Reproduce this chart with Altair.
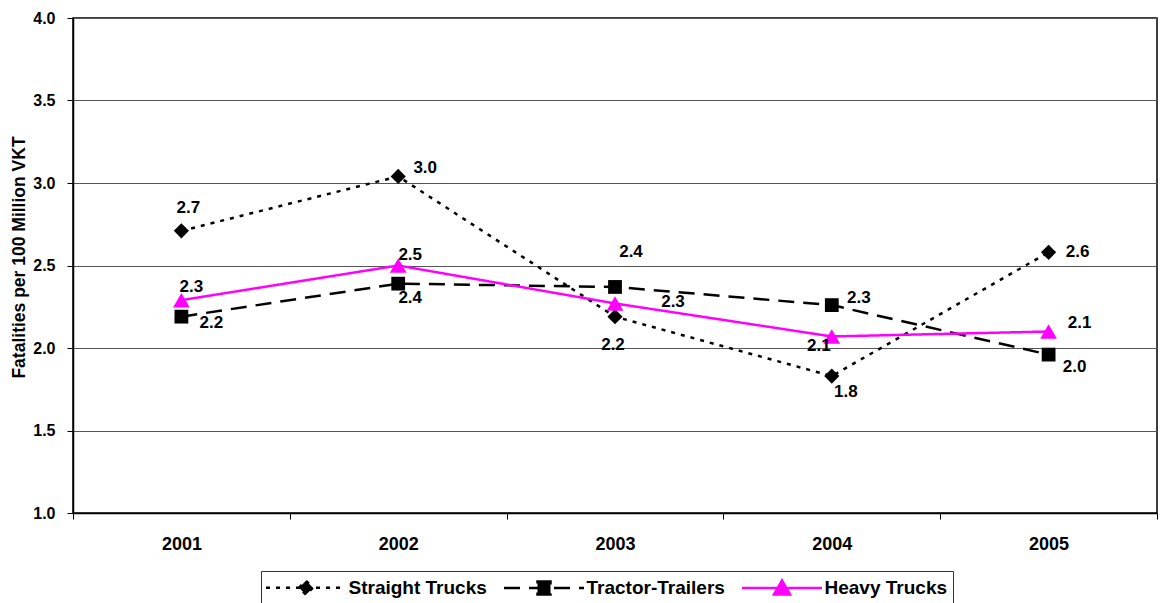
import altair as alt
import pandas as pd

# ---------------- data ----------------
years = ["2001", "2002", "2003", "2004", "2005"]
series_names = ["Straight Trucks", "Tractor-Trailers", "Heavy Trucks"]
straight_trucks = [2.71, 3.04, 2.19, 1.83, 2.58]
tractor_trailers = [2.19, 2.39, 2.37, 2.26, 1.96]
heavy_trucks = [2.29, 2.50, 2.27, 2.07, 2.10]
y_ticks = [1.0, 1.5, 2.0, 2.5, 3.0, 3.5, 4.0]

# ---------------- styles ----------------
colors = ["#000000", "#000000", "#FF00FF"]
dashes = [[4, 6], [16, 9], [1, 0]]
shapes = ["diamond", "square", "triangle-up"]
marker_sizes = [230, 190, 280]

# data-label offsets in pixels (per series, per year)
label_dx = [[7, 27, -2, 14, 29], [30, 12, 16, 27, 26], [10, 12, 58, -13, 31]]
label_dy = [[-23, -8, 28, 16, 0], [6, 14, -35, -7, 12], [-13, -11, -1, 10, -9]]

rows = []
for s, vals in zip(series_names, [straight_trucks, tractor_trailers, heavy_trucks]):
    for yr, v in zip(years, vals):
        rows.append({"year": yr, "series": s, "value": v})
df = pd.DataFrame(rows)

FONT = "Liberation Sans"

x_enc = alt.X(
    "year:N",
    sort=years,
    scale=alt.Scale(type="band", domain=years, paddingInner=0, paddingOuter=0),
    axis=alt.Axis(
        title=None, labelAngle=0, tickBand="extent", tickSize=6, tickColor="black",
        domainColor="black", domainWidth=1.5, labelFont=FONT, labelFontSize=18,
        labelFontWeight="bold", labelColor="black", labelPadding=16, grid=False,
    ),
)
y_enc = alt.Y(
    "value:Q",
    scale=alt.Scale(domain=[1, 4], nice=False, zero=False),
    axis=alt.Axis(
        values=y_ticks, format=".1f", title="Fatalities per 100 Million VKT",
        titleFont=FONT, titleFontSize=17.5, titleFontWeight="bold", titleColor="black",
        titleX=-54, titleY=239, titleBaseline="middle", titleAlign="center", titleAngle=270,
        labelFont=FONT, labelFontSize=16, labelFontWeight="bold", labelColor="black",
        labelPadding=12, tickSize=6, tickColor="black", domainColor="black", domainWidth=1.5,
        grid=True, gridColor="#555555", gridWidth=1,
    ),
)

color_scale = alt.Scale(domain=series_names, range=colors)

shape_expr = (
    "datum.value === 'Straight Trucks' ? 'M-4,0H4M-0.7,0L0,-0.7L0.7,0L0,0.7Z' : "
    "datum.value === 'Tractor-Trailers' ? 'M-4,0H4M-0.65,-0.65H0.65V0.65H-0.65Z' : "
    "'M-4,0H4M0,-0.75L0.8,0.65H-0.8Z'"
)
col_expr = "datum.value === 'Heavy Trucks' ? '#FF00FF' : '#000000'"
dash_expr = (
    "datum.value === 'Straight Trucks' ? [4,6] : "
    "datum.value === 'Tractor-Trailers' ? [16,10] : [1,0]"
)

legend = alt.Legend(
    title=None, orient="none", legendX=188, legendY=553, direction="horizontal",
    strokeColor="#333333", fillColor="white", padding=5, cornerRadius=0,
    labelFont=FONT, labelFontSize=19, labelFontWeight="bold", labelColor="black",
    labelLimit=0, symbolSize=400, symbolStrokeWidth=2.5, symbolOffset=28.5,
    labelOffset=31, columnPadding=12,
    symbolType=alt.ExprRef(shape_expr),
    symbolFillColor=alt.ExprRef(col_expr),
    symbolStrokeColor=alt.ExprRef(col_expr),
    symbolDash=alt.ExprRef(dash_expr),
    symbolOpacity=1,
)

base = alt.Chart(df)

lines = base.mark_line(strokeWidth=2.5).encode(
    x=x_enc,
    y=y_enc,
    color=alt.Color("series:N", scale=color_scale, legend=legend),
    strokeDash=alt.StrokeDash(
        "series:N", scale=alt.Scale(domain=series_names, range=dashes), legend=None
    ),
    detail="series:N",
)

point_layers = []
for i, s in enumerate(series_names):
    point_layers.append(
        base.transform_filter(alt.datum.series == s)
        .mark_point(filled=True, opacity=1, shape=shapes[i], size=marker_sizes[i], color=colors[i])
        .encode(x=x_enc, y=y_enc)
    )

label_layers = []
for i, s in enumerate(series_names):
    for j, yr in enumerate(years):
        label_layers.append(
            base.transform_filter(
                (alt.datum.series == s) & (alt.datum.year == yr)
            ).mark_text(
                dx=label_dx[i][j], dy=label_dy[i][j], font=FONT, fontSize=17,
                fontWeight="bold", color="black", align="center", baseline="middle",
            ).encode(x=x_enc, y=y_enc, text=alt.Text("value:Q", format=".1f"))
        )

chart = alt.layer(lines, *point_layers, *label_layers).properties(
    width=1084,
    height=495,
    autosize=alt.AutoSizeParams(type="none"),
    padding={"left": 73, "top": 18, "right": 4, "bottom": 90},
    background="white",
).configure_view(stroke="black", strokeWidth=1.5)

chart.save("out.html", embed_options={"renderer": "svg", "actions": False})
